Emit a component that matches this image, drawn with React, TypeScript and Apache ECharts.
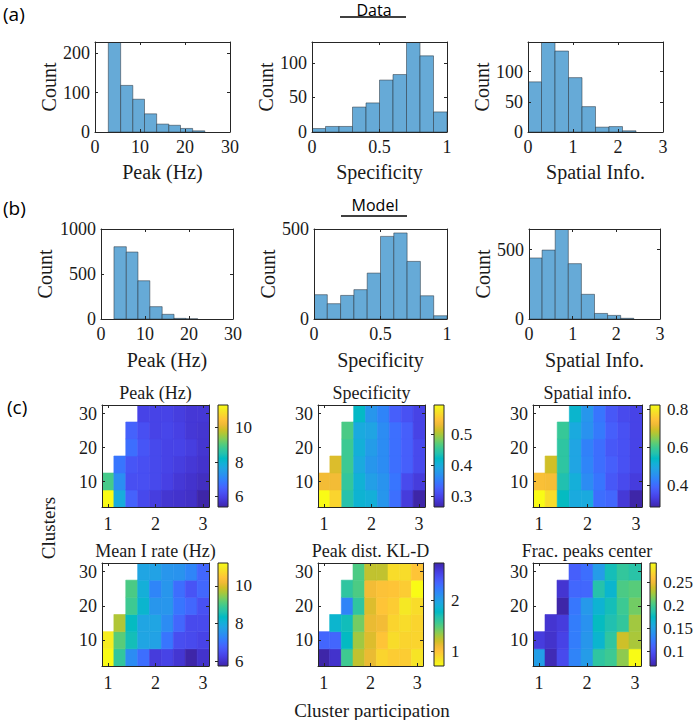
import React, { useEffect, useRef } from "react";
import * as echarts from "echarts";

// ---------------- Histogram data (a) Data, (b) Model ----------------
const dataPeakEdges = [2.96, 5.7, 8.4, 11.0, 13.7, 16.4, 19.0, 21.7, 24.4];
const dataPeakCounts = [228, 118, 83, 46, 20, 17, 9, 3];
const dataSpecEdges = [0, 0.1, 0.2, 0.3, 0.4, 0.5, 0.6, 0.7, 0.8, 0.9, 1.0];
const dataSpecCounts = [5, 8, 8, 36, 42, 75, 83, 130, 110, 29];
const dataSpatEdges = [0, 0.3, 0.6, 0.9, 1.2, 1.5, 1.8, 2.1, 2.4];
const dataSpatCounts = [83, 149, 134, 90, 42, 8, 9, 2];

const modelPeakEdges = [2.95, 5.75, 8.4, 11.1, 13.9, 16.6, 19.3, 22.0];
const modelPeakCounts = [803, 744, 425, 137, 52, 7, 2];
const modelSpecEdges = [0, 0.1, 0.2, 0.3, 0.4, 0.5, 0.6, 0.7, 0.8, 0.9, 1.0];
const modelSpecCounts = [135, 85, 131, 163, 255, 459, 478, 320, 129, 18];
const modelSpatEdges = [0, 0.3, 0.6, 0.9, 1.2, 1.5, 1.8, 2.1, 2.4];
const modelSpatCounts = [440, 497, 649, 399, 178, 40, 26, 5];

const peakXTicks = [0, 10, 20, 30];
const specXTicks = [0, 0.5, 1];
const spatXTicks = [0, 1, 2, 3];
const dataPeakYTicks = [0, 100, 200];
const dataSpecYTicks = [0, 50, 100];
const dataSpatYTicks = [0, 50, 100];
const modelPeakYTicks = [0, 500, 1000];
const modelSpecYTicks = [0, 500];
const modelSpatYTicks = [0, 500];
const histXMax = [30, 1, 3, 30, 1, 3];
const histYMax = [228, 130, 149, 1000, 500, 649];

// ---------------- Heatmap data (c) ----------------
const clusterParticipation = [1, 1.25, 1.5, 1.75, 2, 2.25, 2.5, 2.75, 3];
const clusterCounts = [5, 10, 15, 20, 25, 30];
const heatXTicks = [1, 2, 3];
const heatYTicks = [10, 20, 30];

// rows: clusters 5, 10, 15, 20, 25, 30 ; columns: participation 1 .. 3
const peakRows = [
  [11.3, 7.8, 6.5, 6.1, 5.9, 5.75, 5.7, 5.65, 5.4],
  [8.9, 7.2, 6.2, 6.2, 6.1, 5.95, 5.8, 5.7, 5.6],
  [null, 6.8, 6.3, 6.2, 6.1, 6.0, 5.9, 5.8, 5.7],
  [null, null, 6.7, 6.3, 6.1, 6.0, 6.0, 5.9, 5.75],
  [null, null, 6.5, 6.2, 6.0, 6.05, 5.95, 5.8, 5.75],
  [null, null, null, 6.0, 6.0, 6.0, 5.9, 5.8, 5.8],
];
const specRows = [
  [0.595, 0.562, 0.44, 0.41, 0.404, 0.374, 0.338, 0.291, 0.265],
  [0.536, 0.536, 0.45, 0.407, 0.384, 0.371, 0.344, 0.305, 0.291],
  [null, 0.522, 0.456, 0.397, 0.374, 0.364, 0.338, 0.324, 0.305],
  [null, null, 0.456, 0.404, 0.381, 0.364, 0.338, 0.324, 0.305],
  [null, null, 0.463, 0.397, 0.39, 0.364, 0.338, 0.324, 0.298],
  [null, null, null, 0.42, 0.374, 0.357, 0.324, 0.311, 0.298],
];
const spatRows = [
  [0.825, 0.782, 0.545, 0.502, 0.502, 0.405, 0.394, 0.324, 0.286],
  [0.739, 0.733, 0.566, 0.512, 0.448, 0.415, 0.372, 0.351, 0.329],
  [null, 0.696, 0.582, 0.491, 0.437, 0.405, 0.383, 0.361, 0.34],
  [null, null, 0.582, 0.491, 0.432, 0.405, 0.372, 0.361, 0.34],
  [null, null, 0.593, 0.502, 0.458, 0.421, 0.383, 0.361, 0.34],
  [null, null, null, 0.529, 0.464, 0.415, 0.372, 0.351, 0.34],
];
const meanIRows = [
  [11.2, 8.81, 7.4, 6.96, 6.2, 6.31, 6.1, 5.77, 6.04],
  [11.0, 9.14, 8.49, 7.83, 7.78, 7.07, 6.48, 6.42, 6.31],
  [null, 9.68, 8.38, 7.83, 7.83, 7.4, 6.86, 6.42, 6.42],
  [null, null, 8.92, 8.21, 7.56, 7.56, 7.07, 6.86, 6.53],
  [null, null, 9.03, 8.05, 7.29, 7.56, 6.96, 6.58, 6.86],
  [null, null, null, 7.83, 7.78, 7.56, 7.51, 7.29, 6.86],
];
const klRows = [
  [2.73, 2.63, 1.56, 1.24, 1.12, 0.92, 0.96, 0.96, 0.84],
  [2.33, 2.33, 1.77, 1.32, 1.16, 1.0, 0.88, 0.92, 0.92],
  [null, 1.83, 1.73, 1.42, 1.12, 1.08, 0.92, 0.88, 0.92],
  [null, null, 2.17, 1.62, 1.16, 1.0, 0.96, 0.82, 0.88],
  [null, null, 1.62, 1.52, 1.08, 1.02, 1.0, 0.96, 0.72],
  [null, null, null, 1.52, 1.24, 1.24, 0.88, 0.88, 1.0],
];
const fracRows = [
  [0.149, 0.073, 0.096, 0.131, 0.147, 0.192, 0.198, 0.221, 0.292],
  [0.087, 0.08, 0.091, 0.127, 0.143, 0.169, 0.192, 0.238, 0.228],
  [null, 0.082, 0.087, 0.127, 0.14, 0.176, 0.185, 0.194, 0.226],
  [null, null, 0.069, 0.123, 0.145, 0.167, 0.181, 0.198, 0.214],
  [null, null, 0.082, 0.114, 0.114, 0.187, 0.169, 0.203, 0.207],
  [null, null, null, 0.109, 0.118, 0.147, 0.181, 0.194, 0.189],
];
const peakCbTicks = [6, 8, 10];
const specCbTicks = [0.3, 0.4, 0.5];
const spatCbTicks = [0.4, 0.6, 0.8];
const meanICbTicks = [6, 8, 10];
const klCbTicks = [1, 2];
const fracCbTicks = [0.1, 0.15, 0.2, 0.25];

// ---------------- Styles ----------------
const SERIF = "'Liberation Serif', 'Times New Roman', serif";
const SANS = "'Open Sans', 'Liberation Sans', sans-serif";
const AX = "#262626";
const TXT = "#1a1a1a";
const HIST_FILL = "#66AAD7";
const HIST_EDGE = "rgba(40,50,60,0.75)";
const PARULA = [
  "#3E26A8", "#4332CB", "#4741E5", "#4852F4", "#4563FD", "#3875FE", "#2E87F7", "#2797EB",
  "#20A5E3", "#12B1D6", "#02BAC3", "#24C1AE", "#37C897", "#57CC7A", "#81CC59", "#ABC739",
  "#D1BF27", "#F0BA36", "#FEC338", "#FAD62D", "#F5E924", "#F9FB15",
];
const fmt = (v: number) => String(v);

function boxAxes(gi: number, xr: number[], yr: number[], xt: number[], yt: number[], o: any) {
  const line = { show: true, onZero: false, lineStyle: { color: AX, width: 1 } };
  const tick = (t: number[]) => ({ show: true, inside: true, length: 3, customValues: t, lineStyle: { color: AX, width: 1 } });
  const lbl = (t: number[], margin: number) => ({
    customValues: t, margin, fontFamily: SERIF, fontSize: 18, color: TXT, formatter: fmt,
  });
  const xs = [
    {
      type: "value", gridIndex: gi, min: xr[0], max: xr[1], position: "bottom", z: 5,
      axisLine: line, axisTick: tick(xt), axisLabel: lbl(xt, o.xMargin), splitLine: { show: false },
      name: o.xName || "", nameLocation: "middle", nameGap: o.xGap || 30,
      nameTextStyle: { fontFamily: SERIF, fontSize: 20, color: TXT },
    },
    {
      type: "value", gridIndex: gi, min: xr[0], max: xr[1], position: "top", z: 5,
      axisLine: line, axisTick: tick(xt), axisLabel: { show: false }, splitLine: { show: false },
    },
  ];
  const ys = [
    {
      type: "value", gridIndex: gi, min: yr[0], max: yr[1], position: "left", z: 5,
      axisLine: line, axisTick: tick(yt), axisLabel: lbl(yt, 5), splitLine: { show: false },
      name: o.yName || "", nameLocation: "middle", nameGap: o.yGap || 36,
      nameTextStyle: { fontFamily: SERIF, fontSize: 20, color: TXT },
    },
    {
      type: "value", gridIndex: gi, min: yr[0], max: yr[1], position: "right", z: 5,
      axisLine: line, axisTick: tick(yt), axisLabel: { show: false }, splitLine: { show: false },
    },
  ];
  return { xs, ys };
}

function buildOption() {
  const grid: any[] = [];
  const xAxis: any[] = [];
  const yAxis: any[] = [];
  const series: any[] = [];
  const visualMap: any[] = [];

  const hists = [
    { e: dataPeakEdges, c: dataPeakCounts, xt: peakXTicks, yt: dataPeakYTicks, name: "Peak (Hz)", box: [95, 42, 135, 90], yGap: 36, xGap: 30 },
    { e: dataSpecEdges, c: dataSpecCounts, xt: specXTicks, yt: dataSpecYTicks, name: "Specificity", box: [312, 42, 135, 90], yGap: 36, xGap: 30 },
    { e: dataSpatEdges, c: dataSpatCounts, xt: spatXTicks, yt: dataSpatYTicks, name: "Spatial Info.", box: [528, 42, 135, 90], yGap: 36, xGap: 30 },
    { e: modelPeakEdges, c: modelPeakCounts, xt: peakXTicks, yt: modelPeakYTicks, name: "Peak (Hz)", box: [101, 229, 132, 90], yGap: 46, xGap: 31 },
    { e: modelSpecEdges, c: modelSpecCounts, xt: specXTicks, yt: modelSpecYTicks, name: "Specificity", box: [314, 229, 133, 90], yGap: 36, xGap: 31 },
    { e: modelSpatEdges, c: modelSpatCounts, xt: spatXTicks, yt: modelSpatYTicks, name: "Spatial Info.", box: [529, 229, 131, 90], yGap: 35, xGap: 31 },
  ];

  hists.forEach((h, i) => {
    const gi = grid.length;
    grid.push({ left: h.box[0], top: h.box[1], width: h.box[2], height: h.box[3] });
    const { xs, ys } = boxAxes(gi, [0, histXMax[i]], [0, histYMax[i]], h.xt, h.yt, {
      xMargin: 6, xName: h.name, yName: "Count", yGap: h.yGap, xGap: h.xGap,
    });
    const xi = xAxis.length;
    const yi = yAxis.length;
    xAxis.push(...xs);
    yAxis.push(...ys);
    series.push({
      type: "custom", xAxisIndex: xi, yAxisIndex: yi, clip: true, silent: true,
      data: h.c.map((cnt, k) => [h.e[k], h.e[k + 1], cnt]),
      encode: { x: [0, 1], y: 2 },
      renderItem: (params: any, api: any) => {
        const p0 = api.coord([api.value(0), api.value(2)]);
        const p1 = api.coord([api.value(1), 0]);
        return {
          type: "rect",
          shape: { x: p0[0], y: p0[1], width: p1[0] - p0[0], height: p1[1] - p0[1] },
          style: { fill: HIST_FILL, stroke: HIST_EDGE, lineWidth: 0.7 },
        };
      },
    });
  });

  const heats = [
    { rows: peakRows, t: peakCbTicks, title: "Peak (Hz)", box: [102, 405, 107, 102], cb: 218, rev: false },
    { rows: specRows, t: specCbTicks, title: "Specificity", box: [318, 405, 107, 102], cb: 434, rev: false },
    { rows: spatRows, t: spatCbTicks, title: "Spatial info.", box: [533, 405, 109, 102], cb: 650, rev: false },
    { rows: meanIRows, t: meanICbTicks, title: "Mean I rate (Hz)", box: [102, 563, 107, 103], cb: 218, rev: false },
    { rows: klRows, t: klCbTicks, title: "Peak dist. KL-D", box: [318, 563, 105, 103], cb: 434, rev: true },
    { rows: fracRows, t: fracCbTicks, title: "Frac. peaks center", box: [533, 563, 108, 103], cb: 650, rev: false },
  ];
  const cellW = clusterParticipation[1] - clusterParticipation[0];
  const cellH = clusterCounts[1] - clusterCounts[0];
  const xr = [clusterParticipation[0] - cellW / 2, clusterParticipation[clusterParticipation.length - 1] + cellW / 2];
  const yr = [clusterCounts[0] - cellH / 2, clusterCounts[clusterCounts.length - 1] + cellH / 2];

  const graphics: any[] = [];
  const heatInfo: any[] = [];

  heats.forEach((h) => {
    const gi = grid.length;
    grid.push({ left: h.box[0], top: h.box[1], width: h.box[2], height: h.box[3] });
    const { xs, ys } = boxAxes(gi, xr, yr, heatXTicks, heatYTicks, { xMargin: 8 });
    const xi = xAxis.length;
    const yi = yAxis.length;
    xAxis.push(...xs);
    yAxis.push(...ys);
    const cells: number[][] = [];
    const vals: number[] = [];
    h.rows.forEach((row, r) =>
      row.forEach((v, c) => {
        if (v !== null && v !== undefined) {
          cells.push([clusterParticipation[c], clusterCounts[r], v as number]);
          vals.push(v as number);
        }
      })
    );
    const vmin = Math.min(...vals);
    const vmax = Math.max(...vals);
    const si = series.length;
    series.push({
      type: "custom", xAxisIndex: xi, yAxisIndex: yi, clip: true, silent: true,
      data: cells, encode: { x: 0, y: 1 },
      renderItem: (params: any, api: any) => {
        const c = api.coord([api.value(0), api.value(1)]);
        const s = api.size([cellW, cellH]);
        const col = api.visual("color");
        return {
          type: "rect",
          shape: { x: c[0] - s[0] / 2, y: c[1] - s[1] / 2, width: s[0], height: s[1] },
          style: { fill: col, stroke: col, lineWidth: 0.6 },
        };
      },
    });
    const colors = h.rev ? PARULA.slice().reverse() : PARULA;
    visualMap.push({
      type: "continuous", show: false, seriesIndex: si, dimension: 2, min: vmin, max: vmax,
      inRange: { color: colors },
    });
    heatInfo.push({ h, vmin, vmax, colors });
    graphics.push({
      type: "text", x: h.box[0] + h.box[2] / 2, y: h.box[1] - 12,
      style: { text: h.title, fontFamily: SERIF, fontSize: 18, fill: TXT, align: "center", verticalAlign: "middle" },
    });
  });

  heatInfo.forEach(({ h, vmin, vmax, colors }) => {
    const gi = grid.length;
    grid.push({ left: h.cb, top: h.box[1], width: 10, height: h.box[3] });
    const xi = xAxis.length;
    const yi = yAxis.length;
    xAxis.push({ type: "value", gridIndex: gi, min: 0, max: 1, show: false });
    yAxis.push({
      type: "value", gridIndex: gi, min: vmin, max: vmax, position: "right", z: 5,
      axisLine: { show: false },
      axisTick: { show: true, inside: true, length: 3, customValues: h.t, lineStyle: { color: AX, width: 1 } },
      axisLabel: { customValues: h.t, margin: 7, fontFamily: SERIF, fontSize: 17, color: TXT, formatter: fmt },
      splitLine: { show: false },
    });
    const stops = colors.map((c: string, k: number) => ({ offset: k / (colors.length - 1), color: c }));
    series.push({
      type: "custom", xAxisIndex: xi, yAxisIndex: yi, silent: true,
      data: [[0, vmin, vmax]],
      renderItem: (params: any, api: any) => {
        const top = api.coord([0, api.value(2)]);
        const bot = api.coord([0, api.value(1)]);
        const cs = params.coordSys;
        return {
          type: "rect",
          shape: { x: cs.x, y: top[1], width: cs.width, height: bot[1] - top[1] },
          style: { fill: new echarts.graphic.LinearGradient(0, 1, 0, 0, stops), stroke: AX, lineWidth: 1 },
        };
      },
    });
  });

  const sansText = (text: string, x: number, y: number, size: number, align = "left") => ({
    type: "text", x, y,
    style: { text, fontFamily: SANS, fontSize: size, fill: "#000", align, verticalAlign: "middle" },
  });
  graphics.push(sansText("(a)", 3, 14, 19));
  graphics.push(sansText("(b)", 3, 208, 19));
  graphics.push(sansText("(c)", 7, 407, 19));
  graphics.push(sansText("Data", 374, 10, 16, "center"));
  graphics.push({ type: "line", shape: { x1: 340, y1: 17, x2: 406, y2: 17 }, style: { stroke: "#000", lineWidth: 1.5 } });
  graphics.push(sansText("Model", 375, 205, 16, "center"));
  graphics.push({ type: "line", shape: { x1: 341, y1: 216, x2: 407, y2: 216 }, style: { stroke: "#000", lineWidth: 1.5 } });
  graphics.push({
    type: "text", x: 372, y: 710,
    style: { text: "Cluster participation", fontFamily: SERIF, fontSize: 19, fill: TXT, align: "center", verticalAlign: "middle" },
  });
  graphics.push({
    type: "text", x: 48, y: 528, rotation: Math.PI / 2,
    style: { text: "Clusters", fontFamily: SERIF, fontSize: 19, fill: TXT, align: "center", verticalAlign: "middle" },
  });

  return {
    animation: false,
    backgroundColor: "#ffffff",
    grid, xAxis, yAxis, series, visualMap,
    graphic: { elements: graphics },
  };
}

export default function App() {
  const ref = useRef<HTMLDivElement>(null);
  useEffect(() => {
    if (!ref.current) return;
    const chart = echarts.init(ref.current, undefined, { renderer: "svg" });
    chart.setOption(buildOption() as any);
    return () => chart.dispose();
  }, []);
  return <div ref={ref} style={{ position: "absolute", left: 0, top: 0, width: 696, height: 720 }} />;
}
